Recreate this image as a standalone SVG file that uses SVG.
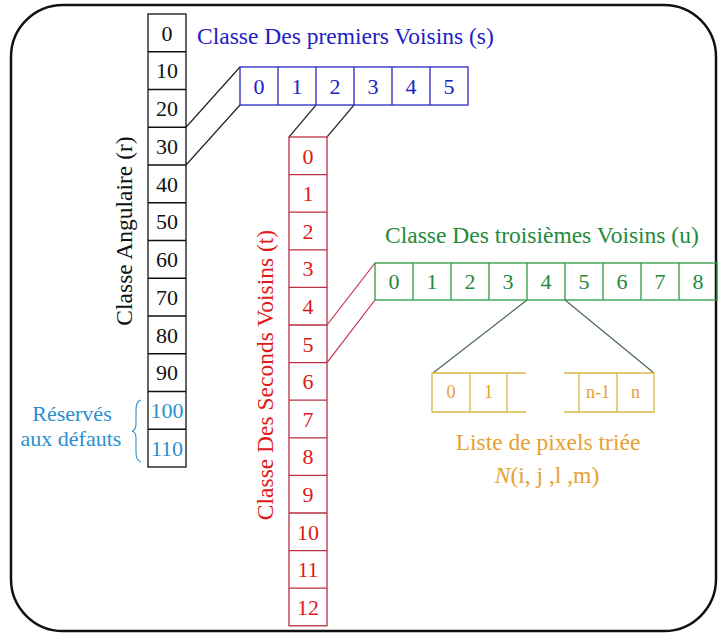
<svg xmlns="http://www.w3.org/2000/svg" width="720" height="635" viewBox="0 0 720 635" font-family="'Liberation Serif', 'DejaVu Serif', serif">
<style>
.d{font-size:22px;text-anchor:middle;}
.lbl{font-size:23.5px;}
.blk{fill:none;stroke:#111;stroke-width:1.3;}
.blu{fill:none;stroke:#2a2ac0;stroke-width:1.3;}
.red{fill:none;stroke:#b83040;stroke-width:1.3;}
.grn{fill:none;stroke:#2e9a45;stroke-width:1.3;}
.yel{fill:none;stroke:#d8b84a;stroke-width:1.3;}
</style>
<rect x="11" y="5" width="705" height="626" rx="52" ry="52" fill="#fff" stroke="#111" stroke-width="2.5"/>

<g id="connectors">
<line x1="240" y1="67" x2="186" y2="127.25" stroke="#222" stroke-width="1.2"/>
<line x1="240" y1="105" x2="186" y2="165" stroke="#222" stroke-width="1.2"/>
<line x1="316" y1="105" x2="289" y2="137" stroke="#333" stroke-width="1.2"/>
<line x1="354" y1="105" x2="327" y2="137" stroke="#333" stroke-width="1.2"/>
<line x1="375" y1="263" x2="327" y2="325" stroke="#c03050" stroke-width="1.2"/>
<line x1="375" y1="300" x2="327" y2="362.6" stroke="#c03050" stroke-width="1.2"/>
<line x1="527" y1="300" x2="433" y2="373" stroke="#4a6a50" stroke-width="1.2"/>
<line x1="565" y1="300" x2="654" y2="373" stroke="#4a6a50" stroke-width="1.2"/>
</g>

<g id="angular">
<rect class="blk" x="148" y="14" width="38" height="453"/>
<path class="blk" d="M148 51.75H186M148 89.5H186M148 127.25H186M148 165H186M148 202.75H186M148 240.5H186M148 278.25H186M148 316H186M148 353.75H186M148 391.5H186M148 429.25H186"/>
<g class="d" fill="#111">
<text x="167" y="40.5">0</text>
<text x="167" y="78.3">10</text>
<text x="167" y="116">20</text>
<text x="167" y="153.8">30</text>
<text x="167" y="191.5">40</text>
<text x="167" y="229.3">50</text>
<text x="167" y="267">60</text>
<text x="167" y="304.8">70</text>
<text x="167" y="342.5">80</text>
<text x="167" y="380.3">90</text>
<text x="167" y="418" fill="#2a8fd0">100</text>
<text x="167" y="455.8" fill="#2a8fd0">110</text>
</g>
<text class="lbl" transform="translate(132,231) rotate(-90)" text-anchor="middle" fill="#111">Classe Angulaire (r)</text>
</g>

<g id="reserved">
<text x="72" y="421" font-size="22" text-anchor="middle" fill="#2a8fd0">Réservés</text>
<text x="71" y="446" font-size="22" text-anchor="middle" fill="#2a8fd0">aux défauts</text>
<path d="M141 400 Q136 401 136 410 L136 424 Q136 430 132 431 Q136 432 136 438 L136 452 Q136 461 141 462" fill="none" stroke="#2a8fd0" stroke-width="1.1"/>
</g>

<g id="first">
<text class="lbl" x="197" y="44" fill="#2020c8">Classe Des premiers Voisins (s)</text>
<rect class="blu" x="240" y="67" width="228" height="38"/>
<path class="blu" d="M278 67V105M316 67V105M354 67V105M392 67V105M430 67V105"/>
<g class="d" fill="#2020c8">
<text x="259" y="93.5">0</text>
<text x="297" y="93.5">1</text>
<text x="335" y="93.5">2</text>
<text x="373" y="93.5">3</text>
<text x="411" y="93.5">4</text>
<text x="449" y="93.5">5</text>
</g>
</g>

<g id="second">
<rect class="red" x="289" y="137" width="38" height="488.8"/>
<path class="red" d="M289 174.6H327M289 212.2H327M289 249.8H327M289 287.4H327M289 325H327M289 362.6H327M289 400.2H327M289 437.8H327M289 475.4H327M289 513H327M289 550.6H327M289 588.2H327"/>
<g class="d" fill="#e01818">
<text x="308" y="163.5">0</text>
<text x="308" y="201.1">1</text>
<text x="308" y="238.7">2</text>
<text x="308" y="276.3">3</text>
<text x="308" y="313.9">4</text>
<text x="308" y="351.5">5</text>
<text x="308" y="389.1">6</text>
<text x="308" y="426.7">7</text>
<text x="308" y="464.3">8</text>
<text x="308" y="501.9">9</text>
<text x="308" y="539.5">10</text>
<text x="308" y="577.1">11</text>
<text x="308" y="614.7">12</text>
</g>
<text class="lbl" transform="translate(273,375) rotate(-90)" text-anchor="middle" fill="#e01818">Classe Des Seconds Voisins (t)</text>
</g>

<g id="third">
<text class="lbl" x="385" y="243" fill="#1e8a3a">Classe Des troisièmes Voisins (u)</text>
<rect class="grn" x="375" y="263" width="342" height="37"/>
<path class="grn" d="M413 263V300M451 263V300M489 263V300M527 263V300M565 263V300M603 263V300M641 263V300M679 263V300"/>
<g class="d" fill="#1e8a3a" font-size="21">
<text x="394" y="289">0</text>
<text x="432" y="289">1</text>
<text x="470" y="289">2</text>
<text x="508" y="289">3</text>
<text x="546" y="289">4</text>
<text x="584" y="289">5</text>
<text x="622" y="289">6</text>
<text x="660" y="289">7</text>
<text x="698" y="289">8</text>
</g>
</g>

<g id="list">
<path class="yel" d="M526 373H432V412H526M470 373V412M507 373V412M564 373H654V412H564M579 373V412M617 373V412"/>
<g fill="#e8a030" font-size="18" text-anchor="middle">
<text x="451" y="398">0</text>
<text x="488.5" y="398">1</text>
<text x="598" y="398">n-1</text>
<text x="635.5" y="398">n</text>
</g>
<text class="lbl" x="548" y="450" text-anchor="middle" fill="#e8a030">Liste de pixels triée</text>
<text class="lbl" x="547" y="483" text-anchor="middle" fill="#e8a030"><tspan font-style="italic">N</tspan>(i, j ,l ,m)</text>
</g>
</svg>
